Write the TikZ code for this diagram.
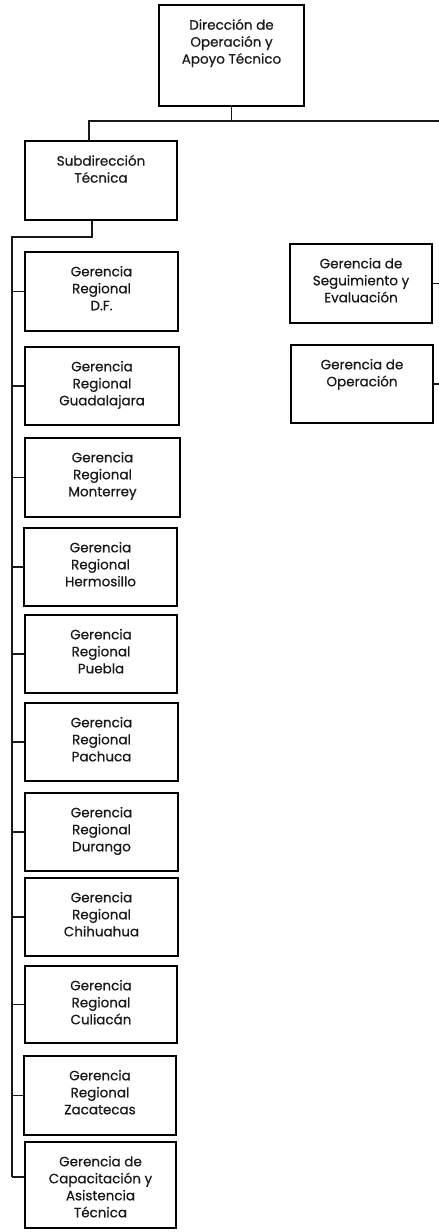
\documentclass[tikz,border=0pt]{standalone}
\usepackage{fontspec}
\setmainfont{Poppins}[FakeBold=0.6]
\newcommand{\orgbox}[6]{%
  \node[orgrect, minimum width={#4-#2}, minimum height={#5-#3}] (#1) at ({(#2+#4)/2},{(#3+#5)/2}) {};
  \node[orglbl] (#1t) at ([yshift=-14.5pt]#1.north) {#6};
}
\begin{document}
\begin{tikzpicture}[x=1pt,y=-1pt,
  orgrect/.style={draw=black, line width=1.4pt, inner sep=0pt, fill=none},
  orglbl/.style={anchor=north, align=center, inner sep=0pt, text=black!90,
    font=\fontsize{13.5}{17}\selectfont},
  conn/.style={draw=black!90, line width=1.3pt}]
\useasboundingbox (0,0) rectangle (439,1232);

\orgbox{top}{159}{5}{304}{106}{Dirección de\\Operación y\\Apoyo Técnico}
\orgbox{sub}{25}{141}{177}{220}{Subdirección\\Técnica}
\orgbox{b1}{25}{252}{178}{331}{Gerencia\\Regional\\D.F.}
\orgbox{b2}{25}{347}{179}{425}{Gerencia\\Regional\\Guadalajara}
\orgbox{b3}{25}{438}{180}{517}{Gerencia\\Regional\\Monterrey}
\orgbox{b4}{24}{528}{177}{606}{Gerencia\\Regional\\Hermosillo}
\orgbox{b5}{25}{615}{177}{693}{Gerencia\\Regional\\Puebla}
\orgbox{b6}{25}{703}{178}{781}{Gerencia\\Regional\\Pachuca}
\orgbox{b7}{25}{793}{178}{871}{Gerencia\\Regional\\Durango}
\orgbox{b8}{25}{878}{178}{956}{Gerencia\\Regional\\Chihuahua}
\orgbox{b9}{25}{966}{177}{1043}{Gerencia\\Regional\\Culiacán}
\orgbox{b10}{24}{1056}{176}{1135}{Gerencia\\Regional\\Zacatecas}
\orgbox{b11}{25}{1142}{176}{1228}{Gerencia de\\Capacitación y\\Asistencia\\Técnica}
\orgbox{r1}{290}{244}{432}{323}{Gerencia de\\Seguimiento y\\Evaluación}
\orgbox{r2}{291}{345}{433}{423}{Gerencia de\\Operación}

\coordinate (topbus) at (231,121);
\coordinate (busL) at (89,121);
\coordinate (busR) at (440,121);
\coordinate (subbus) at (92,237);
\coordinate (spineTop) at (12,237);
\coordinate (spineBot) at (12,1177);
\coordinate (edgeR) at (440,300);

\draw[conn] (top.south) -- (top.south |- topbus);
\draw[conn] (busR) -- (busL) -- (busL |- sub.north);
\draw[conn] (sub.south -| subbus) -- (subbus) -- (spineTop) -- (spineBot);
\foreach \b in {b1,b2,b3,b4,b5,b6,b7,b8,b9,b10}
  \draw[conn] (\b.west) -- (\b.west -| spineTop);
\draw[conn] (spineBot) -- (spineBot -| b11.west);
\draw[conn] (r1.east) -- (r1.east -| edgeR);
\draw[conn] (r2.east) -- (r2.east -| edgeR);
\end{tikzpicture}
\end{document}
